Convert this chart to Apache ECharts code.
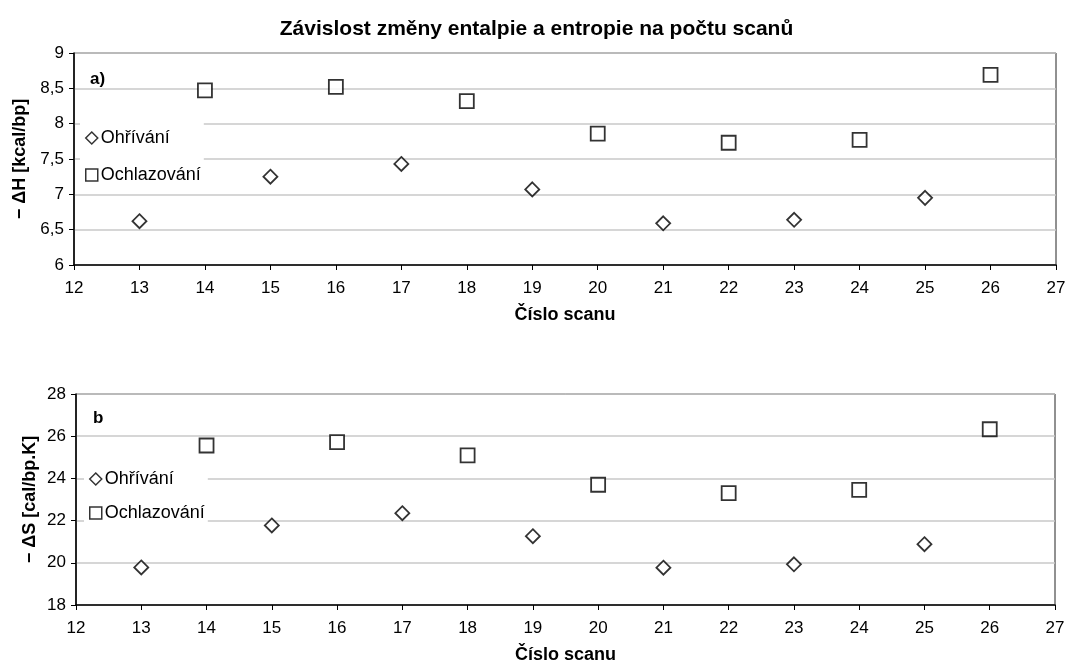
<!DOCTYPE html>
<html>
<head>
<meta charset="utf-8">
<script src="https://cdn.jsdelivr.net/npm/echarts@6/dist/echarts.min.js"></script>
<style>
html,body{margin:0;padding:0;background:#fff;}
#chart{width:1073px;height:665px;}
</style>
</head>
<body>
<div id="chart"></div>
<script>
// ---- data ----
const scanHeat = [13, 15, 17, 19, 21, 23, 25];
const scanCool = [14, 16, 18, 20, 22, 24, 26];
const dHHeat = [6.62, 7.25, 7.43, 7.07, 6.59, 6.64, 6.95];
const dHCool = [8.47, 8.52, 8.32, 7.86, 7.73, 7.77, 8.69];
const dSHeat = [19.78, 21.77, 22.35, 21.26, 19.77, 19.93, 20.88];
const dSCool = [25.56, 25.72, 25.09, 23.70, 23.30, 23.46, 26.33];
const seriesNames = ['Ohřívání', 'Ochlazování'];
const chartTitle = 'Závislost změny entalpie a entropie na počtu scanů';
const xName = 'Číslo scanu';
const yNameH = '− ΔH [kcal/bp]';
const yNameS = '− ΔS [cal/bp.K]';
const panelA = 'a)';
const panelB = 'b';

const pairs = (xs, ys) => xs.map((x, i) => [x, ys[i]]);
const FONT = '"Liberation Sans", Arial, sans-serif';

const markerStyle = { color: '#fff', borderColor: '#000', borderWidth: 1.8 };

function xAxisCfg(gi) {
  return {
    type: 'value', gridIndex: gi, min: 12, max: 27, interval: 1,
    name: xName, nameLocation: 'middle', nameGap: 41, nameMoveOverlap: false,
    nameTextStyle: { fontFamily: FONT, fontSize: 18, fontWeight: 'bold', color: '#000' },
    axisLine: { show: true, lineStyle: { color: '#000', width: 1.5 } },
    axisTick: { show: true, length: 5, lineStyle: { color: '#000', width: 1 } },
    axisLabel: { fontFamily: FONT, fontSize: 17, color: '#000', margin: 15 },
    splitLine: { show: false }
  };
}
function yAxisCfg(gi, min, max, interval, name, gap) {
  return {
    type: 'value', gridIndex: gi, min: min, max: max, interval: interval,
    name: name, nameLocation: 'middle', nameGap: gap, nameMoveOverlap: false,
    nameTextStyle: { fontFamily: FONT, fontSize: 18, fontWeight: 'bold', color: '#000' },
    axisLine: { show: true, lineStyle: { color: '#000', width: 1.5 } },
    axisTick: { show: true, length: 5, lineStyle: { color: '#000', width: 1 } },
    axisLabel: {
      fontFamily: FONT, fontSize: 17, color: '#000', margin: 10,
      formatter: v => String(v).replace('.', ',')
    },
    splitLine: { show: true, lineStyle: { color: '#c8c8c8', width: 1.5 } }
  };
}
function legendCfg(left, top, gap) {
  return {
    data: seriesNames, orient: 'vertical', left: left, top: top,
    selectedMode: false, backgroundColor: '#fff',
    padding: [5, 3, 5, 5], itemGap: gap, itemWidth: 12, itemHeight: 12,
    itemStyle: { color: '#fff', borderColor: '#000', borderWidth: 1.5 },
    textStyle: { fontFamily: FONT, fontSize: 18, color: '#000', lineHeight: 20, padding: [0, 0, 0, -2] }
  };
}

const chart = echarts.init(document.getElementById('chart'), null, { renderer: 'canvas' });
chart.setOption({
  backgroundColor: '#fff',
  animation: false,
  title: [
    { text: chartTitle, left: 'center', top: 14,
      textStyle: { fontFamily: FONT, fontSize: 21, fontWeight: 'bold', color: '#000' } },
    { text: panelA, left: 85, top: 66,
      textStyle: { fontFamily: FONT, fontSize: 17, fontWeight: 'bold', color: '#000' } },
    { text: panelB, left: 88, top: 405,
      textStyle: { fontFamily: FONT, fontSize: 17, fontWeight: 'bold', color: '#000' } }
  ],
  grid: [
    { left: 74, top: 53, width: 982, height: 212, show: true, borderColor: '#222', borderWidth: 1, backgroundColor: 'transparent' },
    { left: 76, top: 394, width: 979, height: 211, show: true, borderColor: '#222', borderWidth: 1, backgroundColor: 'transparent' }
  ],
  xAxis: [xAxisCfg(0), xAxisCfg(1)],
  yAxis: [
    yAxisCfg(0, 6, 9, 0.5, yNameH, 45),
    yAxisCfg(1, 18, 28, 2, yNameS, 37)
  ],
  legend: [legendCfg(80, 123, 17), legendCfg(84, 464, 14)],
  series: [
    { name: seriesNames[0], type: 'scatter', xAxisIndex: 0, yAxisIndex: 0, symbol: 'diamond', symbolSize: 14,
      itemStyle: markerStyle, data: pairs(scanHeat, dHHeat), z: 3 },
    { name: seriesNames[1], type: 'scatter', xAxisIndex: 0, yAxisIndex: 0, symbol: 'rect', symbolSize: 14,
      itemStyle: markerStyle, data: pairs(scanCool, dHCool), z: 3 },
    { name: seriesNames[0], type: 'scatter', xAxisIndex: 1, yAxisIndex: 1, symbol: 'diamond', symbolSize: 14,
      itemStyle: markerStyle, data: pairs(scanHeat, dSHeat), z: 3 },
    { name: seriesNames[1], type: 'scatter', xAxisIndex: 1, yAxisIndex: 1, symbol: 'rect', symbolSize: 14,
      itemStyle: markerStyle, data: pairs(scanCool, dSCool), z: 3 }
  ]
});
</script>
</body>
</html>
